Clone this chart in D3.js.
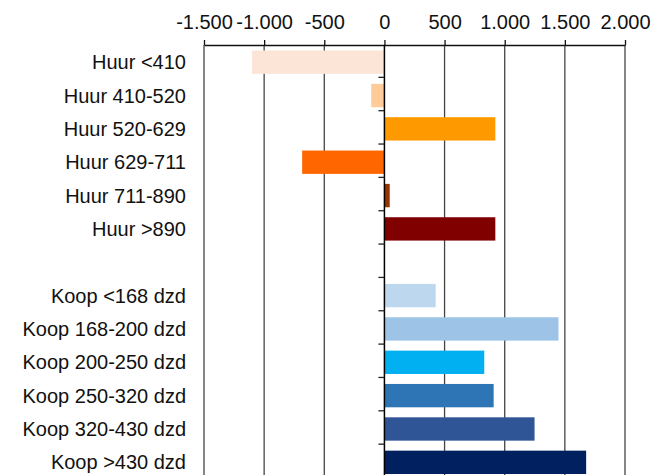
<!DOCTYPE html>
<html>
<head>
<meta charset="utf-8">
<script src="https://cdn.jsdelivr.net/npm/d3@7"></script>
<style>
  html, body { margin: 0; padding: 0; background: #fff; }
  svg { display: block; }
  text { font-family: "Liberation Sans", Arial, sans-serif; fill: #111; }
</style>
</head>
<body>
<svg id="chart" width="653" height="475"></svg>
<script>
// Categories (an empty entry leaves a gap between rent and owner groups)
const categories = [
  "Huur <410", "Huur 410-520", "Huur 520-629", "Huur 629-711", "Huur 711-890", "Huur >890",
  "",
  "Koop <168 dzd", "Koop 168-200 dzd", "Koop 200-250 dzd", "Koop 250-320 dzd", "Koop 320-430 dzd", "Koop >430 dzd"
];
const values = [-1100, -110, 922, -684, 44, 922, null, 426, 1447, 830, 908, 1248, 1677];
const barColors = [
  "#fce4d6", "#ffcc99", "#ff9900", "#ff6600", "#993300", "#800000",
  null,
  "#bdd7ee", "#9dc3e6", "#00b0f0", "#2e75b6", "#2f5597", "#002060"
];
const tickValues = [-1500, -1000, -500, 0, 500, 1000, 1500, 2000];
const tickLabels = ["-1.500", "-1.000", "-500", "0", "500", "1.000", "1.500", "2.000"];

const svg = d3.select("#chart");
const plot = { left: 204, right: 625, top: 45, bottom: 479 };

const x = d3.scaleLinear().domain([-1500, 2000]).range([plot.left, plot.right]);
const y = d3.scaleBand()
  .domain(d3.range(categories.length))
  .range([plot.top + 0.5, plot.bottom])
  .paddingInner(0.3)
  .paddingOuter(0.15);
const step = y.step();
const bandTop = i => y(i) - y.paddingInner() * step / 2;

// vertical gridlines
svg.append("g")
  .selectAll("line")
  .data(tickValues.filter(v => v !== 0))
  .join("line")
  .attr("x1", d => x(d)).attr("x2", d => x(d))
  .attr("y1", plot.top).attr("y2", plot.bottom)
  .attr("stroke", "#444").attr("stroke-width", 1.3);

// bars
svg.append("g")
  .selectAll("rect")
  .data(values.map((v, i) => ({ v, i })).filter(d => d.v !== null))
  .join("rect")
  .attr("x", d => x(Math.min(0, d.v)))
  .attr("width", d => Math.abs(x(d.v) - x(0)))
  .attr("y", d => y(d.i))
  .attr("height", y.bandwidth())
  .attr("fill", d => barColors[d.i]);

// top axis
const axis = svg.append("g").attr("transform", `translate(0,${plot.top})`)
  .call(d3.axisTop(x).tickValues(tickValues).tickSize(5).tickSizeOuter(0)
    .tickFormat((d, i) => tickLabels[i]));
axis.select(".domain").attr("stroke", "#111").attr("stroke-width", 1.3);
axis.selectAll(".tick line").attr("stroke", "#111").attr("stroke-width", 1.3);
axis.selectAll(".tick text")
  .attr("font-size", "20px")
  .attr("font-family", "Liberation Sans, Arial, sans-serif")
  .attr("fill", "#111")
  .attr("dy", 0)
  .attr("y", -16.5);

// zero line with category ticks
svg.append("line")
  .attr("x1", x(0)).attr("x2", x(0))
  .attr("y1", plot.top).attr("y2", plot.bottom)
  .attr("stroke", "#000").attr("stroke-width", 1.5);
svg.append("g")
  .selectAll("line")
  .data(d3.range(1, categories.length))
  .join("line")
  .attr("x1", x(0) - 6).attr("x2", x(0))
  .attr("y1", d => bandTop(d) - 1.5).attr("y2", d => bandTop(d) - 1.5)
  .attr("stroke", "#222").attr("stroke-width", 1.3);

// category labels
svg.append("g")
  .selectAll("text")
  .data(categories.map((c, i) => ({ c, i })).filter(d => d.c))
  .join("text")
  .attr("x", 186)
  .attr("y", d => y(d.i) + y.bandwidth() / 2)
  .attr("dy", "0.35em")
  .attr("text-anchor", "end")
  .attr("font-size", "20px")
  .text(d => d.c);
</script>
</body>
</html>
